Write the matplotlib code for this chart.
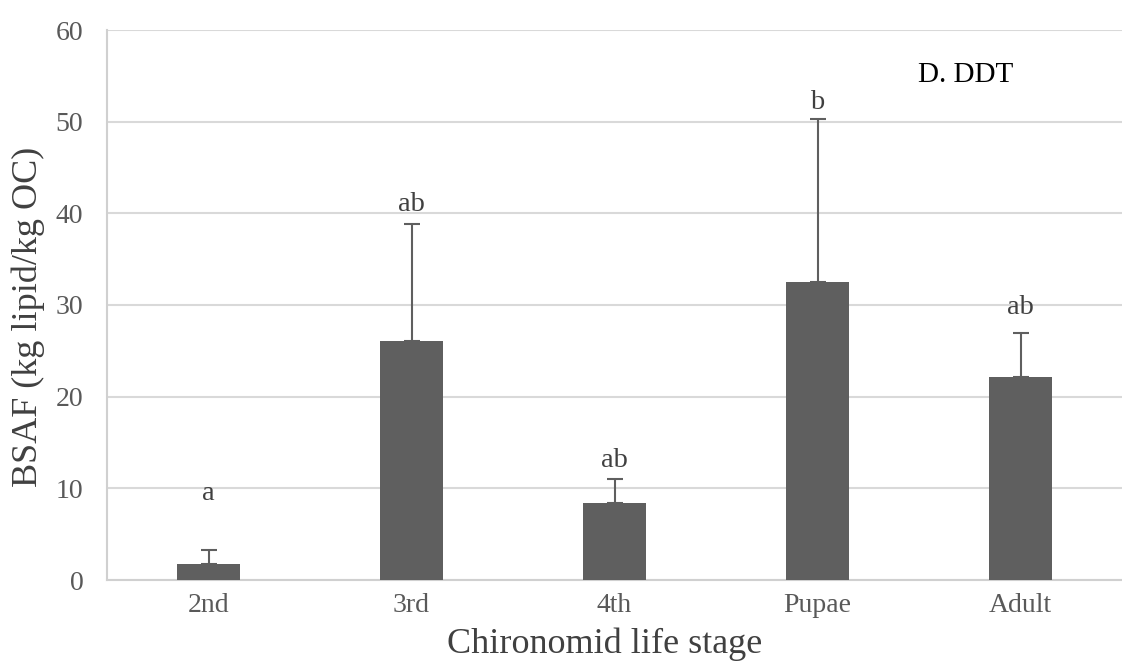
import numpy as np
import matplotlib
matplotlib.use('Agg')
import matplotlib.pyplot as plt

# BSAF values
stages = ['2nd', '3rd', '4th', 'Pupae', 'Adult']
bsaf_mean = [1.7, 26.1, 8.4, 32.5, 22.2]
bsaf_err = [1.6, 12.7, 2.6, 17.8, 4.7]
letters = ['a', 'ab', 'ab', 'b', 'ab']
letter_y = [9.4, 41.0, 13.0, 52.1, 29.7]
yticks = [0, 10, 20, 30, 40, 50, 60]

plt.rcParams['font.family'] = ['Liberation Serif', 'DejaVu Serif']

W, H = 1122, 669
fig = plt.figure(figsize=(W / 100, H / 100), dpi=100)
ax = fig.add_axes([107 / W, 1 - 580 / H, 1 - 107 / W, (580 - 30) / H])

x = np.arange(len(stages))
ax.bar(x, bsaf_mean, width=0.315, color='#5f5f5f', zorder=3)
ax.errorbar(x, bsaf_mean, yerr=[np.zeros(len(x)), bsaf_err], fmt='none',
            ecolor='#5f5f5f', elinewidth=1.5, capsize=6, capthick=1.5, zorder=4)

for xi, lab, ly in zip(x, letters, letter_y):
    ax.text(xi, ly, lab, ha='center', va='center', fontsize=20.5, color='#404040')

ax.text(3.73, 55.1, 'D. DDT', ha='center', va='center', fontsize=21, color='black')

ax.set_xlim(-0.5, len(stages) - 0.5)
ax.set_ylim(0, 60)
ax.set_yticks(yticks)
ax.set_xticks(x)
ax.set_xticklabels(stages)
ax.tick_params(axis='y', length=0, pad=17, labelsize=20, labelcolor='#595959')
ax.tick_params(axis='x', length=0, pad=9, labelsize=20, labelcolor='#595959')

ax.grid(axis='y', color='#d9d9d9', linewidth=1.5, zorder=0)
for s in ['top', 'right']:
    ax.spines[s].set_visible(False)
ax.spines['left'].set_color('#d0d0d0')
ax.spines['left'].set_linewidth(1.5)
ax.spines['bottom'].set_color('#d0d0d0')
ax.spines['bottom'].set_linewidth(1.5)

# axis titles placed by hand to sit where the reference has them
fig.text(605 / W, 1 - 644 / H, 'Chironomid life stage', ha='center', va='center',
         fontsize=26, color='#404040')
fig.text(28 / W, 1 - 317 / H, 'BSAF (kg lipid/kg OC)', ha='center', va='center',
         rotation=90, fontsize=26, color='#404040')

fig.savefig('out.png', dpi=100)
